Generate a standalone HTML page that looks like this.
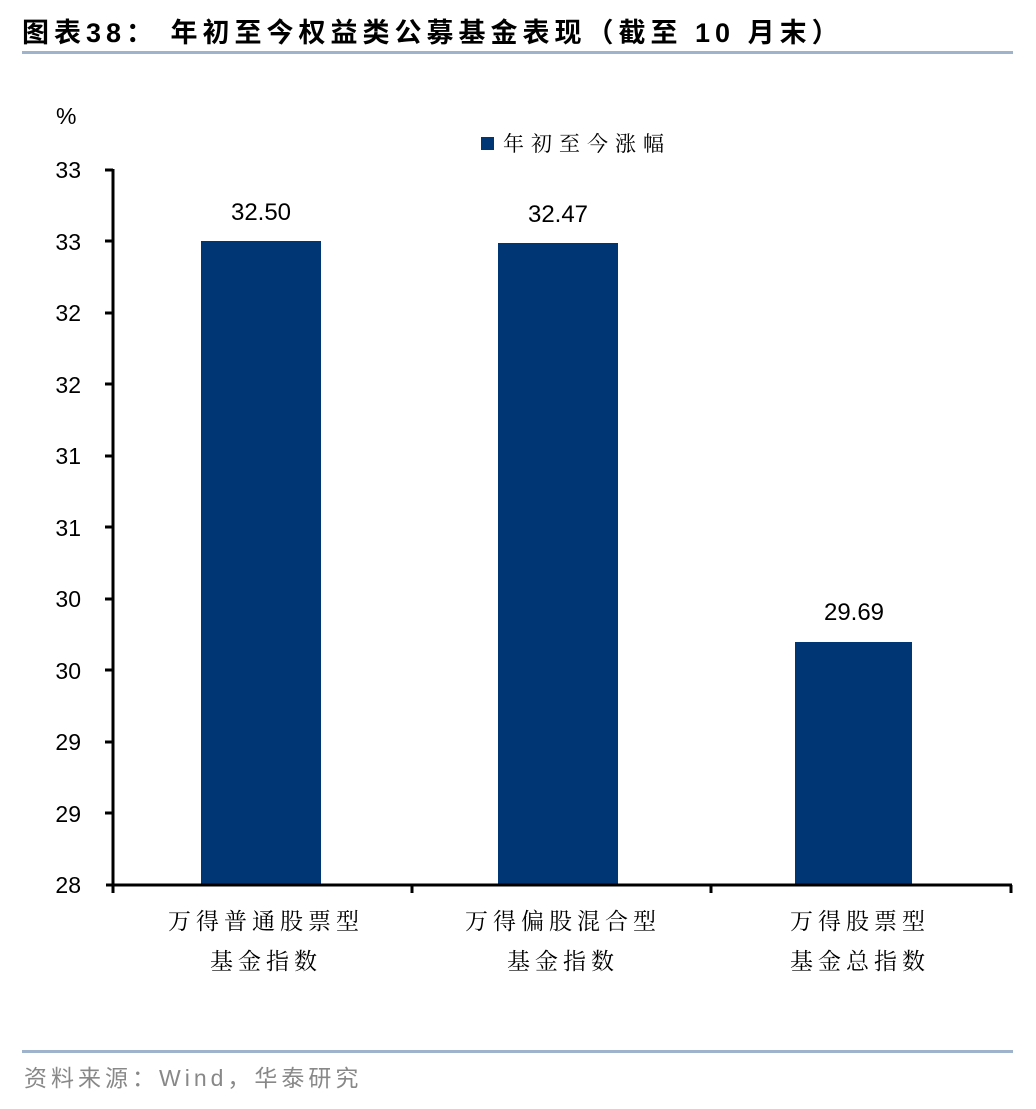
<!DOCTYPE html><html><head><meta charset="utf-8"><style>body{margin:0;background:#fff}</style></head><body>
<svg width="1036" height="1104" xmlns="http://www.w3.org/2000/svg" font-family="'Liberation Sans','Noto Sans CJK SC',sans-serif">
<text x="22" y="42" font-size="27" font-weight="bold" fill="#000" letter-spacing="5">图表38：  年初至今权益类公募基金表现（截至 10 月末）</text>
<rect x="22" y="51" width="991" height="3" fill="#9fb3cc"/>
<text x="56" y="124" font-size="23">%</text>
<g font-size="23" text-anchor="end">
<text x="81" y="178">33</text><text x="81" y="250">33</text><text x="81" y="321">32</text><text x="81" y="393">32</text><text x="81" y="464">31</text><text x="81" y="536">31</text><text x="81" y="607">30</text><text x="81" y="679">30</text><text x="81" y="750">29</text><text x="81" y="822">29</text><text x="81" y="893">28</text>
</g>
<rect x="201" y="241" width="120" height="644" fill="#003673"/>
<rect x="498" y="243" width="120" height="642" fill="#003673"/>
<rect x="795" y="642" width="117" height="243" fill="#003673"/>
<g font-size="24" text-anchor="middle">
<text x="261" y="220">32.50</text><text x="558" y="222">32.47</text><text x="854" y="620">29.69</text>
</g>
<g stroke="#000" stroke-width="3" fill="none">
<line x1="113" y1="169" x2="113" y2="886"/>
<line x1="106" y1="885" x2="1012" y2="885"/>
<path d="M105 170H113M105 241H113M105 313H113M105 384H113M105 456H113M105 527H113M105 599H113M105 670H113M105 742H113M105 813H113"/>
<path d="M113 885V893M412 885V893M711 885V893M1011 885V893"/>
</g>
<rect x="481" y="137" width="13" height="13" fill="#003673"/>
<text x="503" y="151" font-size="21" font-family="'Noto Serif CJK SC',serif" letter-spacing="7">年初至今涨幅</text>
<g font-size="23" text-anchor="middle" font-family="'Noto Serif CJK SC',serif" letter-spacing="5">
<text x="266" y="929">万得普通股票型</text><text x="266" y="969">基金指数</text>
<text x="563" y="929">万得偏股混合型</text><text x="563" y="969">基金指数</text>
<text x="860" y="929">万得股票型</text><text x="860" y="969">基金总指数</text>
</g>
<rect x="22" y="1050" width="991" height="3" fill="#9fb3cc"/>
<text x="24" y="1086" font-size="23" fill="#888" letter-spacing="4">资料来源：Wind，华泰研究</text>
</svg></body></html>
